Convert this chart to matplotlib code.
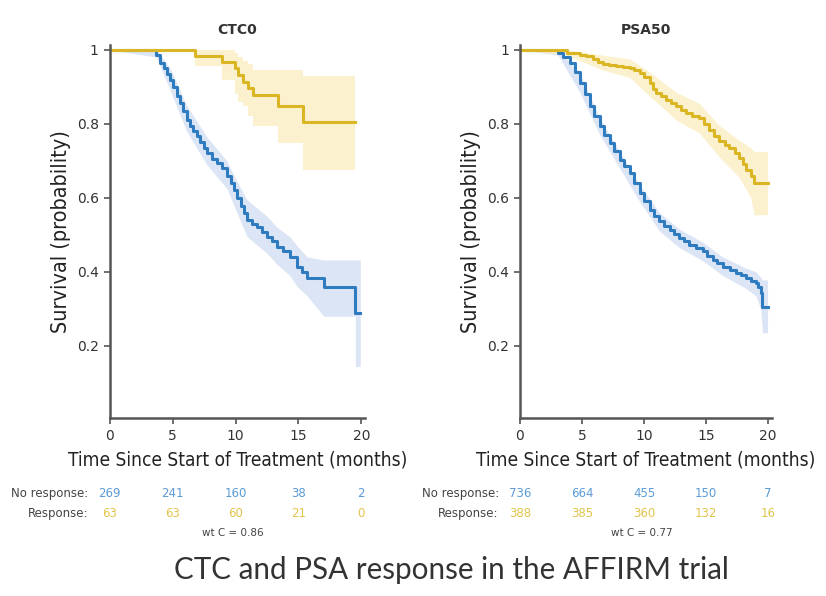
import matplotlib
matplotlib.use("Agg")
import matplotlib.pyplot as plt
from matplotlib import transforms

# ---- data ----
# CTC0 panel
ctc_no_t = [0, 3.7, 3.98, 4.3, 4.55, 4.78, 5.05, 5.31, 5.6, 5.85, 6.11, 6.4, 6.65, 6.91, 7.2,
            7.45, 7.7, 8.1, 8.5, 8.9, 9.3, 9.6, 9.85, 10.1, 10.4, 10.65, 10.89, 11.3, 11.69,
            12.1, 12.49, 12.9, 13.28, 13.8, 14.34, 14.88, 15.3, 15.67, 17.0, 19.52, 19.92]
ctc_no_s = [1, 0.985, 0.964, 0.95, 0.935, 0.919, 0.9, 0.875, 0.855, 0.835, 0.811, 0.795, 0.78,
            0.766, 0.75, 0.735, 0.72, 0.705, 0.694, 0.68, 0.66, 0.64, 0.62, 0.598, 0.578, 0.558,
            0.541, 0.53, 0.52, 0.508, 0.495, 0.482, 0.468, 0.455, 0.441, 0.414, 0.40, 0.384,
            0.36, 0.288, 0.288]
ctc_no_ci_t = [0, 3.7, 4.8, 6.1, 7.7, 9.3, 10.1, 10.9, 12.5, 13.3, 14.3, 14.9, 15.7, 17.0, 19.52, 19.52, 19.92]
ctc_no_lo = [1, 0.98, 0.89, 0.78, 0.69, 0.625, 0.56, 0.495, 0.45, 0.42, 0.39, 0.36, 0.335, 0.28, 0.28, 0.144, 0.144]
ctc_no_hi = [1, 1.0, 0.95, 0.85, 0.765, 0.70, 0.645, 0.595, 0.55, 0.52, 0.495, 0.47, 0.44, 0.432, 0.432, 0.432, 0.432]

ctc_yes_t = [0, 6.77, 8.9, 9.96, 10.2, 10.6, 11.0, 11.4, 13.4, 15.4, 19.52]
ctc_yes_s = [1, 0.982, 0.968, 0.95, 0.932, 0.914, 0.896, 0.878, 0.847, 0.804, 0.804]
ctc_yes_lo = [1, 0.955, 0.919, 0.88, 0.86, 0.847, 0.82, 0.793, 0.748, 0.676, 0.676]
ctc_yes_hi = [1, 1, 1, 0.99, 0.98, 0.97, 0.96, 0.946, 0.946, 0.928, 0.928]

# PSA50 panel
psa_no_t = [0, 3.08, 3.5, 4.02, 4.4, 4.82, 5.2, 5.62, 6.0, 6.43, 6.8, 7.23, 7.6, 8.03, 8.4, 8.84,
            9.2, 9.64, 10.0, 10.44, 10.8, 11.24, 11.6, 12.05, 12.45, 12.85, 13.25, 13.65, 14.2,
            14.72, 15.1, 15.53, 15.9, 16.33, 16.9, 17.4, 17.8, 18.2, 18.6, 19.0, 19.2, 19.4,
            19.54, 19.95]
psa_no_s = [1, 0.99, 0.98, 0.964, 0.94, 0.91, 0.88, 0.847, 0.82, 0.793, 0.77, 0.748, 0.725, 0.703,
            0.685, 0.667, 0.64, 0.613, 0.59, 0.568, 0.55, 0.536, 0.525, 0.514, 0.502, 0.491,
            0.482, 0.473, 0.464, 0.455, 0.443, 0.432, 0.423, 0.414, 0.405, 0.396, 0.39, 0.383,
            0.376, 0.369, 0.36, 0.342, 0.306, 0.306]
psa_no_ci_t = [0, 3.08, 4.82, 6.43, 8.03, 9.64, 11.24, 12.85, 14.72, 16.33, 18.2, 19.0, 19.4, 19.54, 19.95]
psa_no_lo = [1, 0.985, 0.885, 0.77, 0.68, 0.59, 0.51, 0.465, 0.43, 0.39, 0.355, 0.335, 0.3, 0.235, 0.235]
psa_no_hi = [1, 1, 0.935, 0.815, 0.725, 0.635, 0.56, 0.515, 0.48, 0.44, 0.41, 0.40, 0.385, 0.378, 0.378]

psa_yes_t = [0, 3.75, 4.82, 5.3, 5.89, 6.3, 6.7, 7.2, 7.76, 8.3, 8.84, 9.2, 9.64, 10.0, 10.44,
             10.7, 10.97, 11.4, 11.78, 12.2, 12.58, 13.0, 13.38, 13.9, 14.45, 14.85, 15.26,
             15.65, 16.06, 16.5, 16.87, 17.3, 17.67, 17.95, 18.2, 18.6, 18.87, 19.95]
psa_yes_s = [1, 0.991, 0.986, 0.982, 0.975, 0.968, 0.962, 0.958, 0.955, 0.952, 0.95, 0.946, 0.938,
             0.925, 0.91, 0.895, 0.883, 0.874, 0.865, 0.856, 0.847, 0.838, 0.829, 0.822, 0.815,
             0.8, 0.784, 0.768, 0.752, 0.743, 0.734, 0.72, 0.707, 0.69, 0.676, 0.658, 0.64, 0.64]
psa_yes_ci_t = [0, 3.75, 6.7, 8.84, 10.44, 12.58, 14.45, 16.06, 17.67, 18.6, 18.87, 19.95]
psa_yes_lo = [1, 0.985, 0.945, 0.925, 0.875, 0.81, 0.775, 0.71, 0.655, 0.6, 0.554, 0.554]
psa_yes_hi = [1, 1, 0.985, 0.975, 0.94, 0.885, 0.855, 0.795, 0.755, 0.735, 0.725, 0.725]

# risk tables
risk_times = [0, 5, 10, 15, 20]
ctc_risk_no = [269, 241, 160, 38, 2]
ctc_risk_yes = [63, 63, 60, 21, 0]
psa_risk_no = [736, 664, 455, 150, 7]
psa_risk_yes = [388, 385, 360, 132, 16]

titles = ["CTC0", "PSA50"]
wt_c = ["wt C = 0.86", "wt C = 0.77"]
caption = "CTC and PSA response in the AFFIRM trial"

# ---- styling ----
BLUE = "#2f7bbf"
BLUE_FILL = "#d9e3f4"
YELLOW = "#dbb624"
YELLOW_FILL = "#fbf0c9"
BLUE_TXT = "#5b9bd5"
YELLOW_TXT = "#e2c44c"
GREY = "#555555"

fig = plt.figure(figsize=(8.26, 5.96), dpi=100)

panels = [
    dict(rect=[0.133, 0.2987, 0.309, 0.626],
         no=(ctc_no_t, ctc_no_s, ctc_no_ci_t, ctc_no_lo, ctc_no_hi),
         yes=(ctc_yes_t, ctc_yes_s, ctc_yes_t, ctc_yes_lo, ctc_yes_hi),
         yes_step=True,
         risk=(ctc_risk_no, ctc_risk_yes)),
    dict(rect=[0.6295, 0.2987, 0.305, 0.626],
         no=(psa_no_t, psa_no_s, psa_no_ci_t, psa_no_lo, psa_no_hi),
         yes=(psa_yes_t, psa_yes_s, psa_yes_ci_t, psa_yes_lo, psa_yes_hi),
         yes_step=False,
         risk=(psa_risk_no, psa_risk_yes)),
]

for i, p in enumerate(panels):
    ax = fig.add_axes(p["rect"])
    for key, col, fcol in [("no", BLUE, BLUE_FILL), ("yes", YELLOW, YELLOW_FILL)]:
        t, s, ct, lo, hi = p[key]
        step = "post" if (key == "yes" and p["yes_step"]) else None
        ax.fill_between(ct, lo, hi, step=step, color=fcol, linewidth=0, alpha=0.9)
        ax.plot(t, s, drawstyle="steps-post", color=col, linewidth=2.2)

    ax.set_xlim(0, 20.3)
    ax.set_ylim(0.005, 1.013)
    for side in ["top", "right"]:
        ax.spines[side].set_visible(False)
    for side in ["left", "bottom"]:
        ax.spines[side].set_color(GREY)
        ax.spines[side].set_linewidth(1.8)
    ax.set_xticks([0, 5, 10, 15, 20])
    ax.set_xticklabels(["0", "5", "10", "15", "20"])
    ax.set_yticks([0.2, 0.4, 0.6, 0.8, 1.0])
    ax.set_yticklabels(["0.2", "0.4", "0.6", "0.8", "1"])
    ax.tick_params(axis="both", colors=GREY, labelcolor="#333333", labelsize=10,
                   length=4, width=1.2, pad=4)
    ax.set_xlabel("Time Since Start of Treatment (months)", fontsize=13.7,
                  family="DejaVu Sans", fontstretch="condensed", color="#222222", labelpad=5)
    ax.set_ylabel("Survival (probability)", fontsize=15.5, family="DejaVu Sans",
                  fontstretch="condensed", color="#222222", labelpad=4)
    ax.set_title(titles[i], fontsize=10, fontweight="bold", color="#333333", pad=8)

    # number-at-risk table under the axis
    tr = transforms.blended_transform_factory(ax.transData, fig.transFigure)
    ax.text(-1.7, 0.1728, "No response:", transform=tr, ha="right", va="center",
            fontsize=8.5, color="#444444")
    ax.text(-1.7, 0.1376, "Response:", transform=tr, ha="right", va="center",
            fontsize=8.5, color="#444444")
    for x, n_no, n_yes in zip(risk_times, p["risk"][0], p["risk"][1]):
        ax.text(x, 0.1728, str(n_no), transform=tr, ha="center", va="center",
                fontsize=8.5, color=BLUE_TXT)
        ax.text(x, 0.1376, str(n_yes), transform=tr, ha="center", va="center",
                fontsize=8.5, color=YELLOW_TXT)
    ax.text(9.8, 0.106, wt_c[i], transform=tr, ha="center", va="center",
            fontsize=7.5, color="#444444")

fig.text(0.547, 0.043, caption, ha="center", va="center", fontsize=21.3,
         family=["Lato", "DejaVu Sans"], color="#333333")

fig.savefig("out.png", dpi=100)
